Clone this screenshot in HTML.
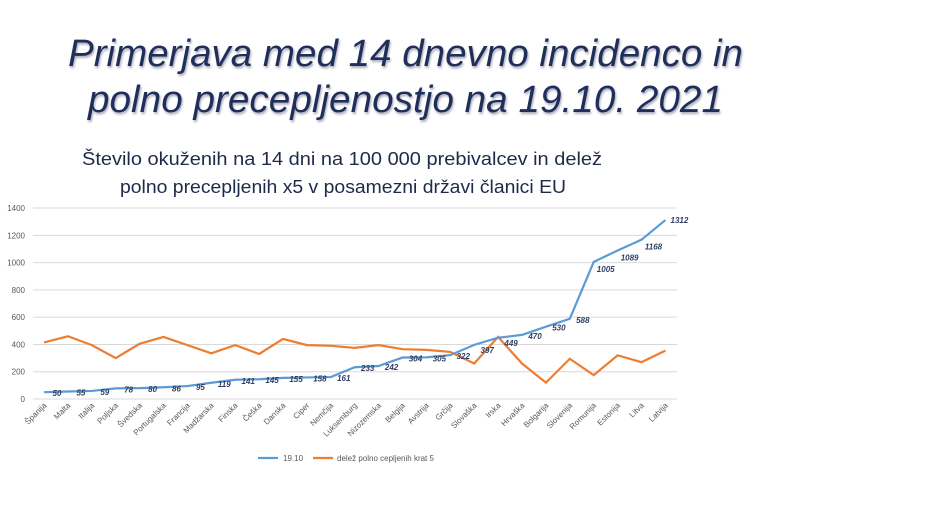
<!DOCTYPE html>
<html><head><meta charset="utf-8"><style>
html,body{margin:0;padding:0;background:#fff;}
svg{display:block;}
</style></head><body>
<svg id="s" width="943" height="530" xmlns="http://www.w3.org/2000/svg" font-family="Liberation Sans, sans-serif">
<text x="68" y="66" font-size="38" font-style="italic" fill="#1f2f5a" textLength="675" lengthAdjust="spacingAndGlyphs" style="text-shadow:1px 2px 2px #aab">Primerjava med 14 dnevno incidenco in</text>
<text x="88" y="112" font-size="38" font-style="italic" fill="#1f2f5a" textLength="635" lengthAdjust="spacingAndGlyphs" style="text-shadow:1px 2px 2px #aab">polno precepljenostjo na 19.10. 2021</text>
<text x="82" y="165" font-size="18" fill="#1e2a4a" textLength="520" lengthAdjust="spacingAndGlyphs">Število okuženih na 14 dni na 100 000 prebivalcev in delež</text>
<text x="120" y="193" font-size="18" fill="#1e2a4a" textLength="446" lengthAdjust="spacingAndGlyphs">polno precepljenih x5 v posamezni državi članici EU</text>
<g id="g"></g>
</svg>
<script>
var names=["Španija","Malta","Italija","Poljska","Švedska","Portugalska","Francija","Madžarska","Finska","Češka","Danska","Ciper","Nemčija","Luksemburg","Nizozemska","Belgija","Avstrija","Grčija","Slovaška","Irska","Hrvaška","Bolgarija","Slovenija","Romunija","Estonija","Litva","Latvija"];
var b=[50,55,59,78,80,86,95,119,141,145,155,158,161,233,242,304,305,322,397,449,470,530,588,1005,1089,1168,1312];
var o=[415,460,395,300,405,455,395,335,395,330,440,395,390,375,395,365,360,345,260,455,260,120,295,175,320,270,355];
var X=i=>44+i*23.9, Y=v=>399-v*0.1364;
var h='';
for(var k=0;k<=7;k++){var y=Y(k*200);h+='<line x1="33" x2="677" y1="'+y+'" y2="'+y+'" stroke="#d9d9d9" stroke-width="1"/>';h+='<text x="25" y="'+(y+3)+'" font-size="8" fill="#595959" text-anchor="end">'+(k*200)+'</text>';}
names.forEach((n,i)=>{var x=X(i)+3,y=406;h+='<text x="'+x+'" y="'+y+'" font-size="8" fill="#595959" text-anchor="end" transform="rotate(-45 '+x+' '+y+')">'+n+'</text>';});
h+='<polyline fill="none" stroke="#ed7d31" stroke-width="2.2" points="'+o.map((v,i)=>X(i)+','+Y(v)).join(' ')+'"/>';
h+='<polyline fill="none" stroke="#5b9bd5" stroke-width="2.2" points="'+b.map((v,i)=>X(i)+','+Y(v)).join(' ')+'"/>';
b.forEach((v,i)=>{var x=X(i)+13,y=Y(v)+4;if(i>=23){y=Y(v)+10;x=X(i)+12;}if(i==26){y=Y(v)+3;x=X(i)+14;}if(i==18||i==19){y=Y(v)+8;}h+='<text x="'+x+'" y="'+y+'" font-size="8" font-style="italic" font-weight="bold" fill="#2f3e63" text-anchor="middle">'+v+'</text>';});
h+='<line x1="258" x2="278" y1="458" y2="458" stroke="#5b9bd5" stroke-width="2.2"/><text x="283" y="461" font-size="8" fill="#595959">19.10</text>';
h+='<line x1="313" x2="333" y1="458" y2="458" stroke="#ed7d31" stroke-width="2.2"/><text x="337" y="461" font-size="8" fill="#595959">delež polno cepljenih krat 5</text>';
document.getElementById('g').innerHTML=h;
</script>
</body></html>
